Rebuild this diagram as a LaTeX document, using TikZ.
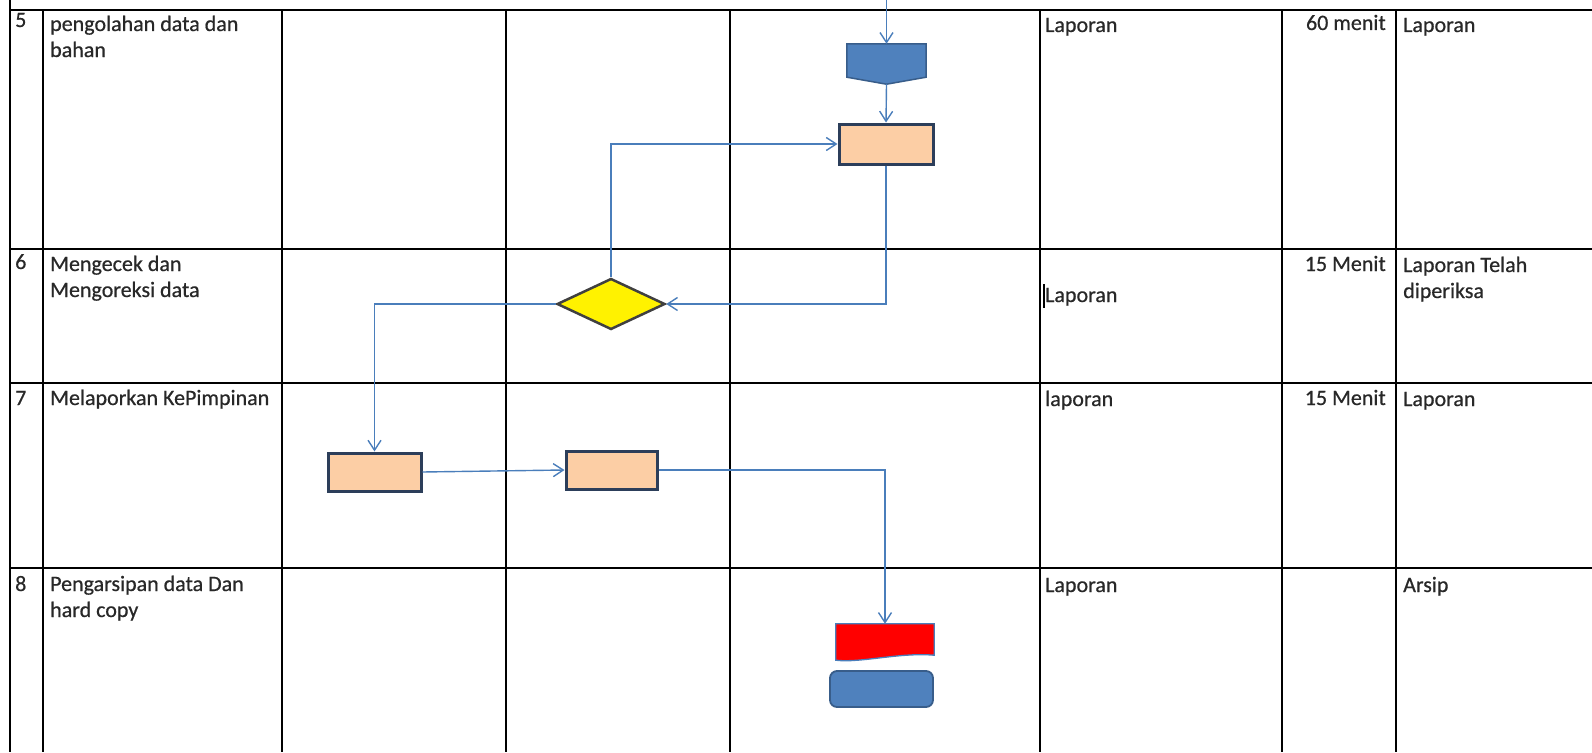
\documentclass[tikz,border=0pt]{standalone}
\usepackage{fontspec}
\setmainfont{Carlito}[FakeBold=0.6]
\usetikzlibrary{arrows.meta,shapes.geometric}
\definecolor{linkblue}{RGB}{74,126,187}
\definecolor{boxedge}{RGB}{44,62,90}
\definecolor{peach}{RGB}{252,206,165}
\definecolor{docblue}{RGB}{79,129,189}
\definecolor{docedge}{RGB}{56,93,138}
\definecolor{inkgray}{RGB}{40,40,40}

\begin{document}
\begin{tikzpicture}[x=1pt, y=-1pt,
    gridline/.style={line width=2pt, black},
    txt/.style={anchor=base west, inner sep=0pt, align=left, text=inkgray,
      font=\fontsize{22}{26}\selectfont},
    rtxt/.style={txt, anchor=base east, align=right},
    proc/.style={rectangle, draw=boxedge, line width=3pt, fill=peach, inner sep=0pt},
    link/.style={draw=linkblue, line width=1.4pt, -{Straight Barb[length=10pt, width=13pt]}}
  ]
  \useasboundingbox (0,0) rectangle (1592,752);
  % table
  \foreach \y in {10,249,383,568}
    \draw[gridline] (10,\y) -- (1592,\y);
  \draw[gridline] (10,0) -- (10,752);
  \foreach \x in {43,282,506,730,1040,1282,1396}
    \draw[gridline] (\x,10) -- (\x,752);

  % multi-line texts sit on the baseline of their last line
  \node[txt] (no5) at (15,27) {5};
  \node[txt] (step5) at (50,57) {pengolahan data dan\\bahan};
  \node[txt] (in5) at (1045,32) {Laporan};
  \node[rtxt] (time5) at (1386,30) {60 menit};
  \node[txt] (out5) at (1403,32) {Laporan};

  \node[txt] (no6) at (15,269) {6};
  \node[txt] (step6) at (50,297) {Mengecek dan\\Mengoreksi data};
  \node[txt] (in6) at (1045,302) {Laporan};
  \draw[line width=1.6pt, black] (1044,284) -- (1044,308);
  \node[rtxt] (time6) at (1386,271) {15 Menit};
  \node[txt] (out6) at (1403,298) {Laporan Telah\\diperiksa};

  \node[txt] (no7) at (15,405) {7};
  \node[txt] (step7) at (50,405) {Melaporkan KePimpinan};
  \node[txt] (in7) at (1045,406) {laporan};
  \node[rtxt] (time7) at (1386,405) {15 Menit};
  \node[txt] (out7) at (1403,406) {Laporan};

  \node[txt] (no8) at (15,591) {8};
  \node[txt] (step8) at (50,617) {Pengarsipan data Dan\\hard copy};
  \node[txt] (in8) at (1045,592) {Laporan};
  \node[txt] (out8) at (1403,592) {Arsip};

  % flow
  \node[inner sep=0pt, minimum width=79pt, minimum height=40pt] (offpage) at (886.5,64) {};
  \filldraw[fill=docblue, draw=docedge, line width=1.5pt] (offpage.north west) -- (offpage.north east)
    -- ([yshift=7pt]offpage.south east) -- (offpage.south) -- ([yshift=7pt]offpage.south west) -- cycle;
  \node[proc, minimum width=94pt, minimum height=40pt] (olah) at (886,144) {};
  \node[diamond, draw=black!75, line width=2.5pt, fill=yellow, minimum width=108pt,
    minimum height=51pt, inner sep=0pt] (cek) at (611,304) {};
  \node[proc, minimum width=93pt, minimum height=38pt] (lapor1) at (374.5,472) {};
  \node[proc, minimum width=91pt, minimum height=38pt] (lapor2) at (611.5,470) {};
  \node[inner sep=0pt, minimum width=98pt, minimum height=36pt] (arsip) at (885,642) {};
  \filldraw[fill=red, draw=linkblue, line width=1.3pt] (arsip.north west) -- (arsip.north east)
    -- ([yshift=5pt]arsip.south east) .. controls ([xshift=-35pt,yshift=8pt]arsip.south east)
    and ([xshift=25pt,yshift=-3pt]arsip.south west) .. (arsip.south west) -- cycle;
  \node[rectangle, rounded corners=7pt, draw=docedge, fill=docblue, line width=1.8pt,
    minimum width=103pt, minimum height=36pt, inner sep=0pt] (copy) at (881.5,689) {};

  \coordinate (top) at (886.5,0);
  \draw[link] (top) -- (offpage.north);
  \draw[link] (offpage.south) -- (olah.north);
  \draw[link] (olah.south) |- (cek.east);
  \draw[link] (cek.north) |- (olah.west);
  \draw[link] (cek.west) -| (lapor1.north);
  \draw[link] (lapor1.east) -- (lapor2.west);
  \draw[link] (lapor2.east) -| (arsip.north);
\end{tikzpicture}
\end{document}
